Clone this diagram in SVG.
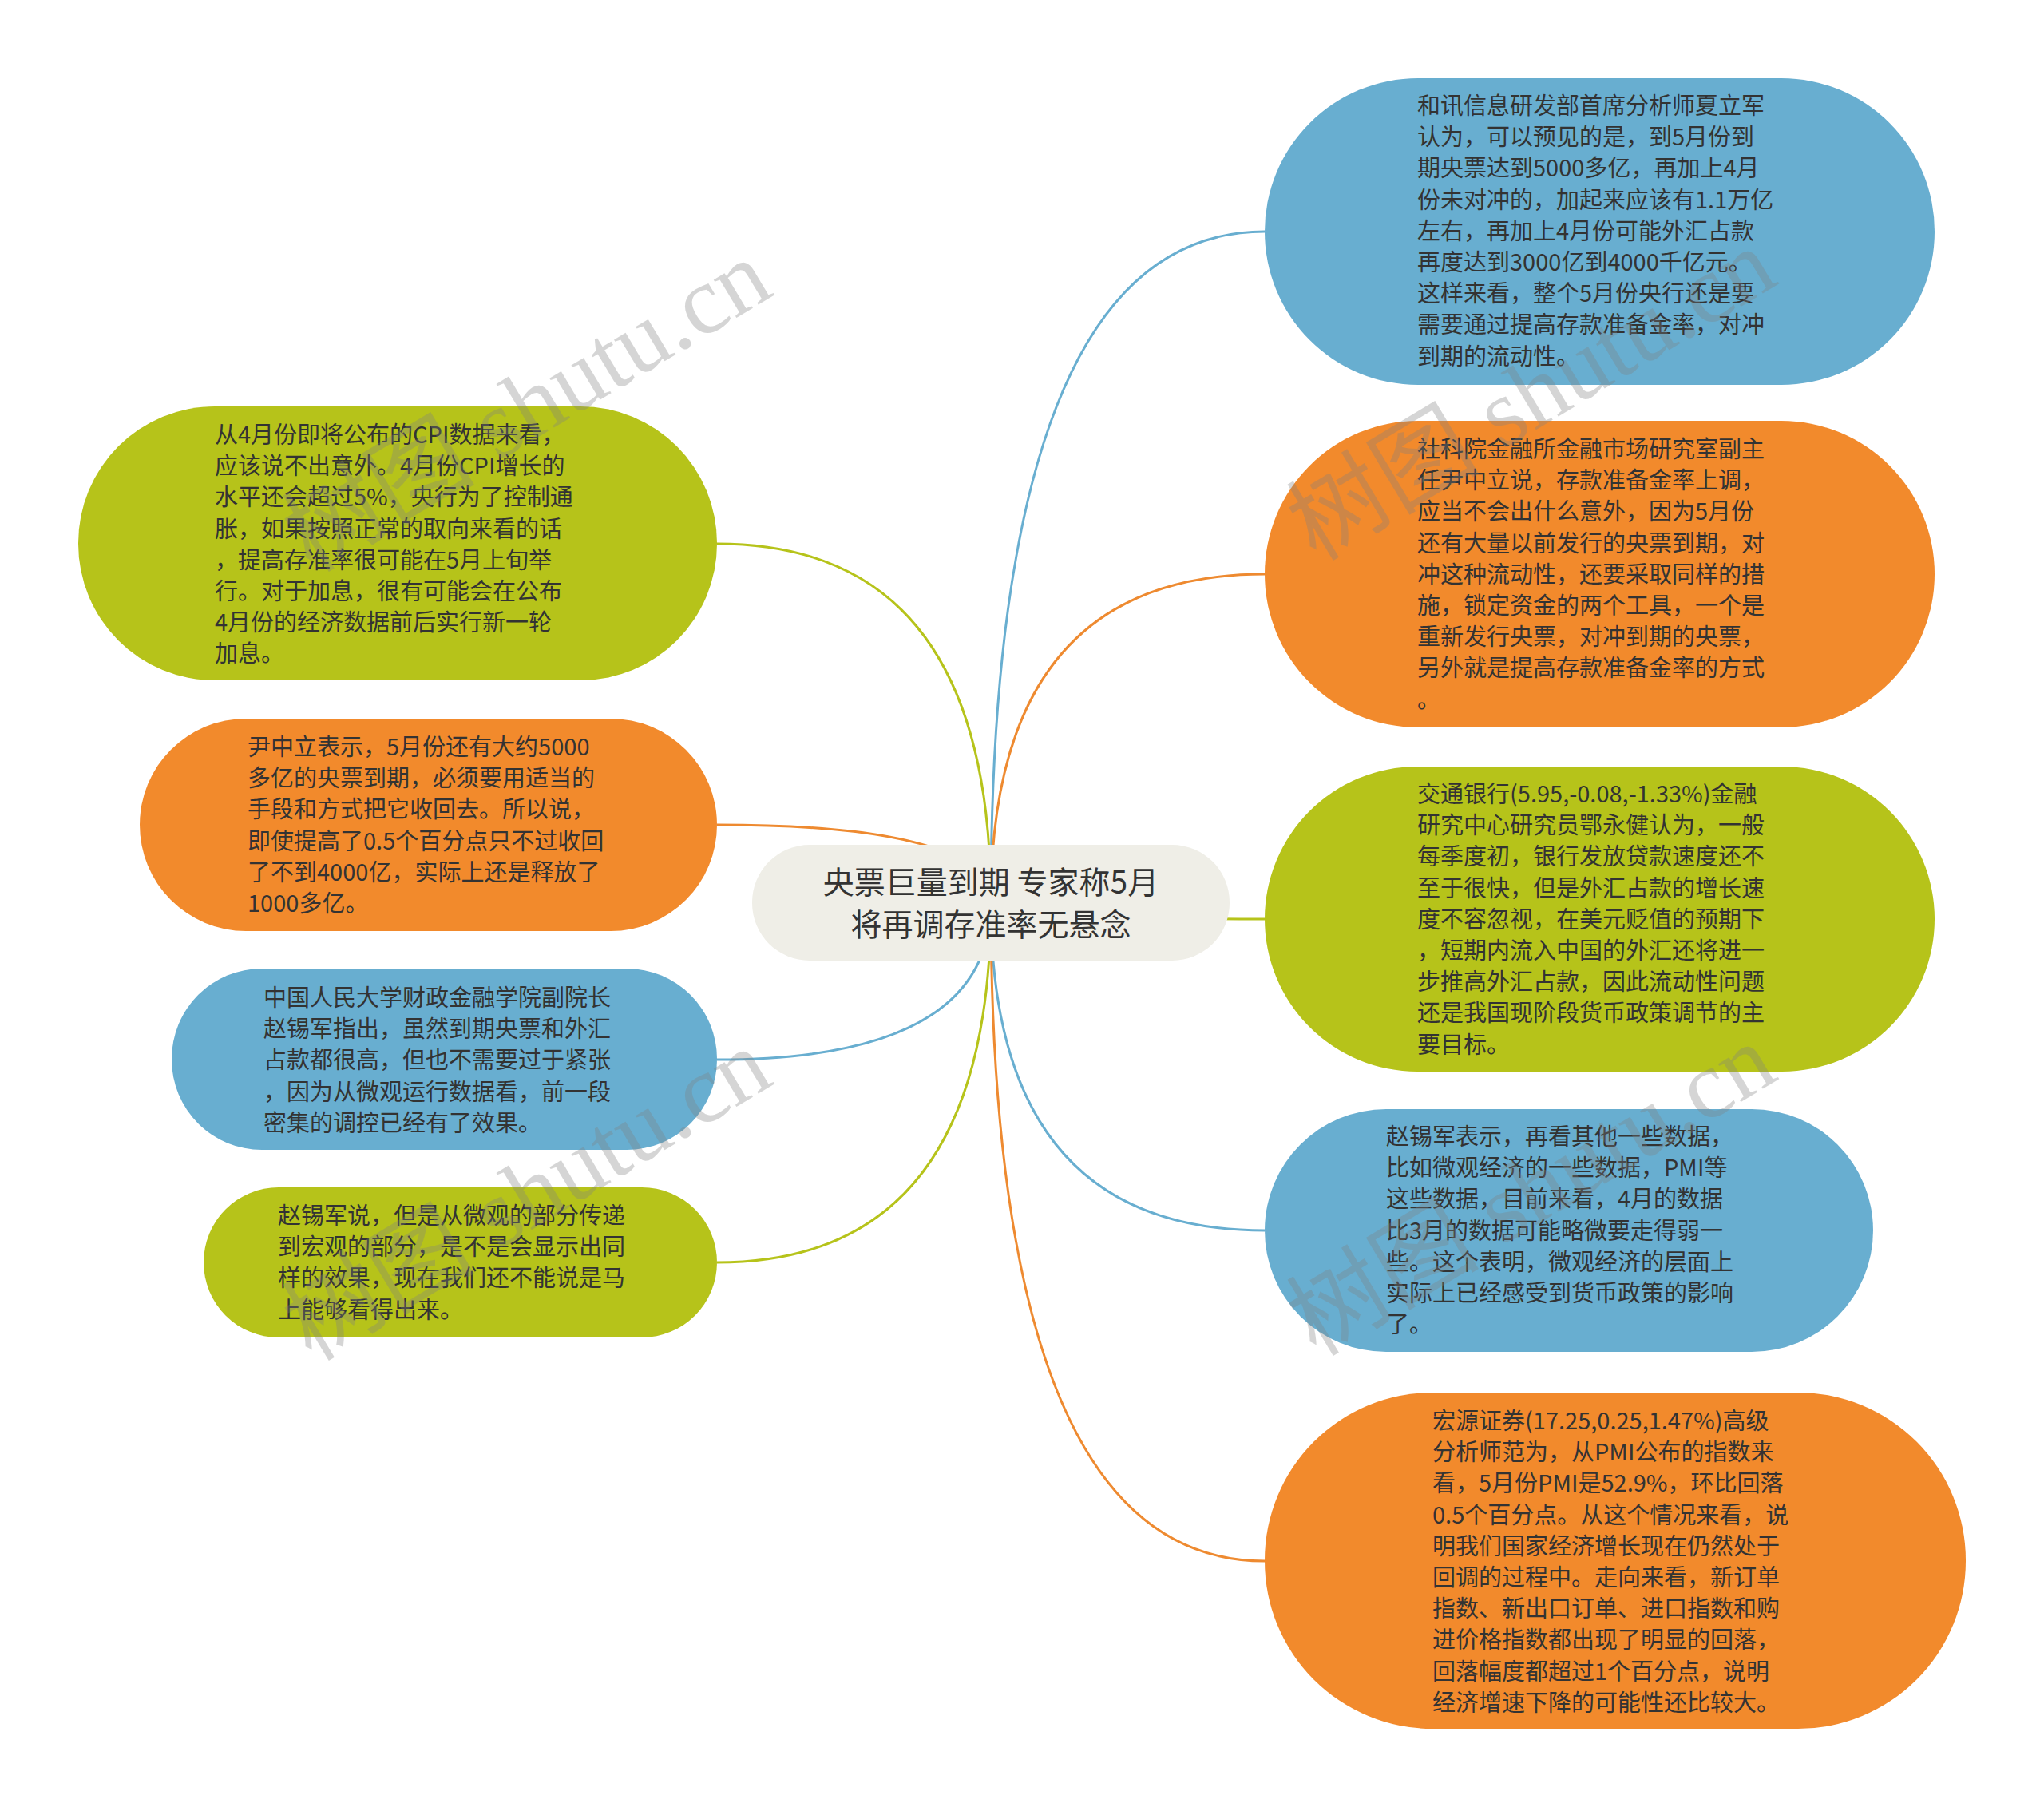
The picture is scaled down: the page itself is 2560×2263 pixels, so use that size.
<svg xmlns="http://www.w3.org/2000/svg" width="2560" height="2263" viewBox="0 0 2560 2263">
<style>
.t{font-family:"Noto Sans CJK SC","Noto Sans",sans-serif;font-size:29px;fill:#333333}
.c{font-family:"Noto Sans CJK SC","Noto Sans",sans-serif;font-size:39px;fill:#333333;text-anchor:middle}
.blue{fill:#68aed0}
.orange{fill:#f28a2c}
.green{fill:#b6c31a}
.lb{stroke:#68aed0}
.lo{stroke:#ee8a30}
.lg{stroke:#b6c31a}
#connectors path{fill:none;stroke-width:3}
.wm{font-family:"Liberation Serif","Noto Sans CJK SC",serif;font-size:121px;fill:#808080;opacity:0.32}
</style>
<rect width="2560" height="2263" fill="#ffffff"/>
<g id="connectors">
<path class="lb" d="M1241 1131 Q1241 290 1584 290"/>
<path class="lo" d="M1241 1131 Q1241 719 1584 719"/>
<path class="lg" d="M1241 1131 Q1241 1151 1584 1151"/>
<path class="lb" d="M1241 1131 Q1241 1541 1584 1541"/>
<path class="lo" d="M1241 1131 Q1241 1955 1584 1955"/>
<path class="lg" d="M1241 1131 Q1241 681 898 681"/>
<path class="lo" d="M1241 1131 Q1241 1033 898 1033"/>
<path class="lb" d="M1241 1131 Q1241 1327 898 1327"/>
<path class="lg" d="M1241 1131 Q1241 1581 898 1581"/>
</g>
<g id="center">
<rect x="942" y="1058" width="598" height="145" rx="72" fill="#efeee7"/>
<text class="c" x="1241" y="1119">央票巨量到期 专家称5月</text>
<text class="c" x="1241" y="1172">将再调存准率无悬念</text>
</g>
<g id="r1">
<rect class="blue" x="1584" y="98" width="839" height="384" rx="192"/>
<text class="t" x="1775" y="143"><tspan x="1775">和讯信息研发部首席分析师夏立军</tspan><tspan x="1775" dy="39.2">认为，可以预见的是，到5月份到</tspan><tspan x="1775" dy="39.2">期央票达到5000多亿，再加上4月</tspan><tspan x="1775" dy="39.2">份未对冲的，加起来应该有1.1万亿</tspan><tspan x="1775" dy="39.2">左右，再加上4月份可能外汇占款</tspan><tspan x="1775" dy="39.2">再度达到3000亿到4000千亿元。</tspan><tspan x="1775" dy="39.2">这样来看，整个5月份央行还是要</tspan><tspan x="1775" dy="39.2">需要通过提高存款准备金率，对冲</tspan><tspan x="1775" dy="39.2">到期的流动性。</tspan></text>
</g>
<g id="r2">
<rect class="orange" x="1584" y="527" width="839" height="384" rx="192"/>
<text class="t" x="1775" y="573"><tspan x="1775">社科院金融所金融市场研究室副主</tspan><tspan x="1775" dy="39.2">任尹中立说，存款准备金率上调，</tspan><tspan x="1775" dy="39.2">应当不会出什么意外，因为5月份</tspan><tspan x="1775" dy="39.2">还有大量以前发行的央票到期，对</tspan><tspan x="1775" dy="39.2">冲这种流动性，还要采取同样的措</tspan><tspan x="1775" dy="39.2">施，锁定资金的两个工具，一个是</tspan><tspan x="1775" dy="39.2">重新发行央票，对冲到期的央票，</tspan><tspan x="1775" dy="39.2">另外就是提高存款准备金率的方式</tspan><tspan x="1775" dy="39.2">。</tspan></text>
</g>
<g id="r3">
<rect class="green" x="1584" y="960" width="839" height="382" rx="191"/>
<text class="t" x="1775" y="1005"><tspan x="1775">交通银行(5.95,-0.08,-1.33%)金融</tspan><tspan x="1775" dy="39.2">研究中心研究员鄂永健认为，一般</tspan><tspan x="1775" dy="39.2">每季度初，银行发放贷款速度还不</tspan><tspan x="1775" dy="39.2">至于很快，但是外汇占款的增长速</tspan><tspan x="1775" dy="39.2">度不容忽视，在美元贬值的预期下</tspan><tspan x="1775" dy="39.2">，短期内流入中国的外汇还将进一</tspan><tspan x="1775" dy="39.2">步推高外汇占款，因此流动性问题</tspan><tspan x="1775" dy="39.2">还是我国现阶段货币政策调节的主</tspan><tspan x="1775" dy="39.2">要目标。</tspan></text>
</g>
<g id="r4">
<rect class="blue" x="1584" y="1389" width="762" height="304" rx="152"/>
<text class="t" x="1736" y="1434"><tspan x="1736">赵锡军表示，再看其他一些数据，</tspan><tspan x="1736" dy="39.2">比如微观经济的一些数据，PMI等</tspan><tspan x="1736" dy="39.2">这些数据，目前来看，4月的数据</tspan><tspan x="1736" dy="39.2">比3月的数据可能略微要走得弱一</tspan><tspan x="1736" dy="39.2">些。这个表明，微观经济的层面上</tspan><tspan x="1736" dy="39.2">实际上已经感受到货币政策的影响</tspan><tspan x="1736" dy="39.2">了。</tspan></text>
</g>
<g id="r5">
<rect class="orange" x="1584" y="1744" width="878" height="421" rx="210"/>
<text class="t" x="1794" y="1790"><tspan x="1794">宏源证券(17.25,0.25,1.47%)高级</tspan><tspan x="1794" dy="39.2">分析师范为，从PMI公布的指数来</tspan><tspan x="1794" dy="39.2">看，5月份PMI是52.9%，环比回落</tspan><tspan x="1794" dy="39.2">0.5个百分点。从这个情况来看，说</tspan><tspan x="1794" dy="39.2">明我们国家经济增长现在仍然处于</tspan><tspan x="1794" dy="39.2">回调的过程中。走向来看，新订单</tspan><tspan x="1794" dy="39.2">指数、新出口订单、进口指数和购</tspan><tspan x="1794" dy="39.2">进价格指数都出现了明显的回落，</tspan><tspan x="1794" dy="39.2">回落幅度都超过1个百分点，说明</tspan><tspan x="1794" dy="39.2">经济增速下降的可能性还比较大。</tspan></text>
</g>
<g id="l1">
<rect class="green" x="98" y="509" width="800" height="343" rx="171"/>
<text class="t" x="269" y="555"><tspan x="269">从4月份即将公布的CPI数据来看，</tspan><tspan x="269" dy="39.2">应该说不出意外。4月份CPI增长的</tspan><tspan x="269" dy="39.2">水平还会超过5%，央行为了控制通</tspan><tspan x="269" dy="39.2">胀，如果按照正常的取向来看的话</tspan><tspan x="269" dy="39.2">，提高存准率很可能在5月上旬举</tspan><tspan x="269" dy="39.2">行。对于加息，很有可能会在公布</tspan><tspan x="269" dy="39.2">4月份的经济数据前后实行新一轮</tspan><tspan x="269" dy="39.2">加息。</tspan></text>
</g>
<g id="l2">
<rect class="orange" x="175" y="900" width="723" height="266" rx="133"/>
<text class="t" x="310" y="946"><tspan x="310">尹中立表示，5月份还有大约5000</tspan><tspan x="310" dy="39.2">多亿的央票到期，必须要用适当的</tspan><tspan x="310" dy="39.2">手段和方式把它收回去。所以说，</tspan><tspan x="310" dy="39.2">即使提高了0.5个百分点只不过收回</tspan><tspan x="310" dy="39.2">了不到4000亿，实际上还是释放了</tspan><tspan x="310" dy="39.2">1000多亿。</tspan></text>
</g>
<g id="l3">
<rect class="blue" x="215" y="1213" width="683" height="227" rx="113"/>
<text class="t" x="330" y="1260"><tspan x="330">中国人民大学财政金融学院副院长</tspan><tspan x="330" dy="39.2">赵锡军指出，虽然到期央票和外汇</tspan><tspan x="330" dy="39.2">占款都很高，但也不需要过于紧张</tspan><tspan x="330" dy="39.2">，因为从微观运行数据看，前一段</tspan><tspan x="330" dy="39.2">密集的调控已经有了效果。</tspan></text>
</g>
<g id="l4">
<rect class="green" x="255" y="1487" width="643" height="188" rx="94"/>
<text class="t" x="348" y="1533"><tspan x="348">赵锡军说，但是从微观的部分传递</tspan><tspan x="348" dy="39.2">到宏观的部分，是不是会显示出同</tspan><tspan x="348" dy="39.2">样的效果，现在我们还不能说是马</tspan><tspan x="348" dy="39.2">上能够看得出来。</tspan></text>
</g>
<g id="watermarks">
<text class="wm" transform="translate(390,718) rotate(-31)">树图 shutu.cn</text>
<text class="wm" transform="translate(1648,704) rotate(-31)">树图 shutu.cn</text>
<text class="wm" transform="translate(390,1706) rotate(-31)">树图 shutu.cn</text>
<text class="wm" transform="translate(1648,1700) rotate(-31)">树图 shutu.cn</text>
</g>
</svg>
